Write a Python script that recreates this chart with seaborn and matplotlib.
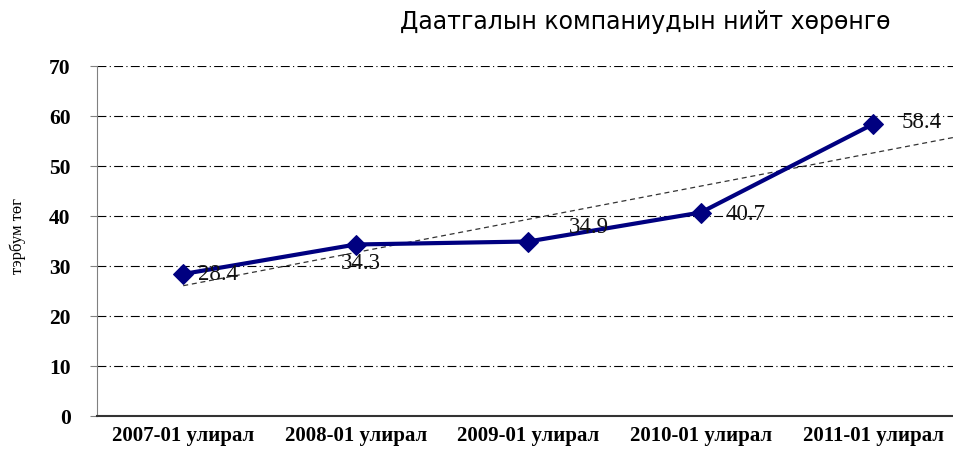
import numpy as np
import pandas as pd
import matplotlib
matplotlib.use('Agg')
import matplotlib.pyplot as plt
import seaborn as sns

# Өгөгдөл
periods = ['2007-01 улирал', '2008-01 улирал', '2009-01 улирал',
           '2010-01 улирал', '2011-01 улирал']
assets = [28.4, 34.3, 34.9, 40.7, 58.4]
label_offsets = [(35, -1), (5, -19), (61, 14), (45, -2), (48, 1)]

TITLE = 'Даатгалын компаниудын нийт хөрөнгө'
YLABEL = 'тэрбум төг'

sns.set_style('white')
plt.rcParams['font.family'] = ['Liberation Serif', 'DejaVu Serif']
plt.rcParams['text.color'] = 'black'
plt.rcParams['xtick.color'] = 'black'
plt.rcParams['ytick.color'] = 'black'

df = pd.DataFrame({'period': periods, 'assets': assets})
df['x'] = np.arange(len(df))

fig = plt.figure(figsize=(9.54, 4.5), dpi=100)
ax = fig.add_axes([97 / 954, 34 / 450, 862.5 / 954, 350 / 450])

# Шугаман чиг хандлага
k, b = np.polyfit(df['x'], df['assets'], 1)
trend_x = np.array([0, len(df) - 0.5])
ax.plot(trend_x, k * trend_x + b, color='#333333', lw=0.9, ls=(0, (4, 3)), zorder=2)

sns.lineplot(data=df, x='x', y='assets', ax=ax, color='#000080', lw=3,
             marker='D', markersize=10, markeredgecolor='#000080', zorder=3)

for xi, yi, (dx, dy) in zip(df['x'], df['assets'], label_offsets):
    ax.annotate(f'{yi:.1f}', (xi, yi), xytext=(dx, dy), textcoords='offset pixels',
                ha='center', va='center', fontsize=16.5, color='#111111', zorder=4)

ax.set_xlim(-0.5, len(df) - 0.5)
ax.set_ylim(0, 70)
ax.set_yticks(range(0, 71, 10))
ax.set_xticks(df['x'])
ax.set_xticklabels(periods)
ax.tick_params(axis='x', length=0, pad=7, labelsize=15)
ax.tick_params(axis='y', length=5, width=0.8, color='#808080', labelcolor='black',
               direction='out', pad=14, labelsize=15.5, left=True)
for lab in ax.get_yticklabels() + ax.get_xticklabels():
    lab.set_fontweight('bold')

ax.yaxis.grid(True, color='black', lw=0.8, ls=(0, (8, 3, 1, 3)))
ax.set_axisbelow(True)
for s in ['top', 'right']:
    ax.spines[s].set_visible(False)
ax.spines['left'].set_color('#808080')
ax.spines['bottom'].set_color('#333333')
ax.spines['bottom'].set_linewidth(1.5)

ax.set_xlabel('')
ax.set_ylabel('')
fig.text(18 / 954, 1 - 236 / 450, YLABEL, rotation=90, ha='center', va='center',
         fontsize=12)
fig.text(645 / 954, 1 - 22 / 450, TITLE, ha='center', va='center',
         fontsize=17, family=['DejaVu Sans'])

fig.savefig('out.png', dpi=100)
